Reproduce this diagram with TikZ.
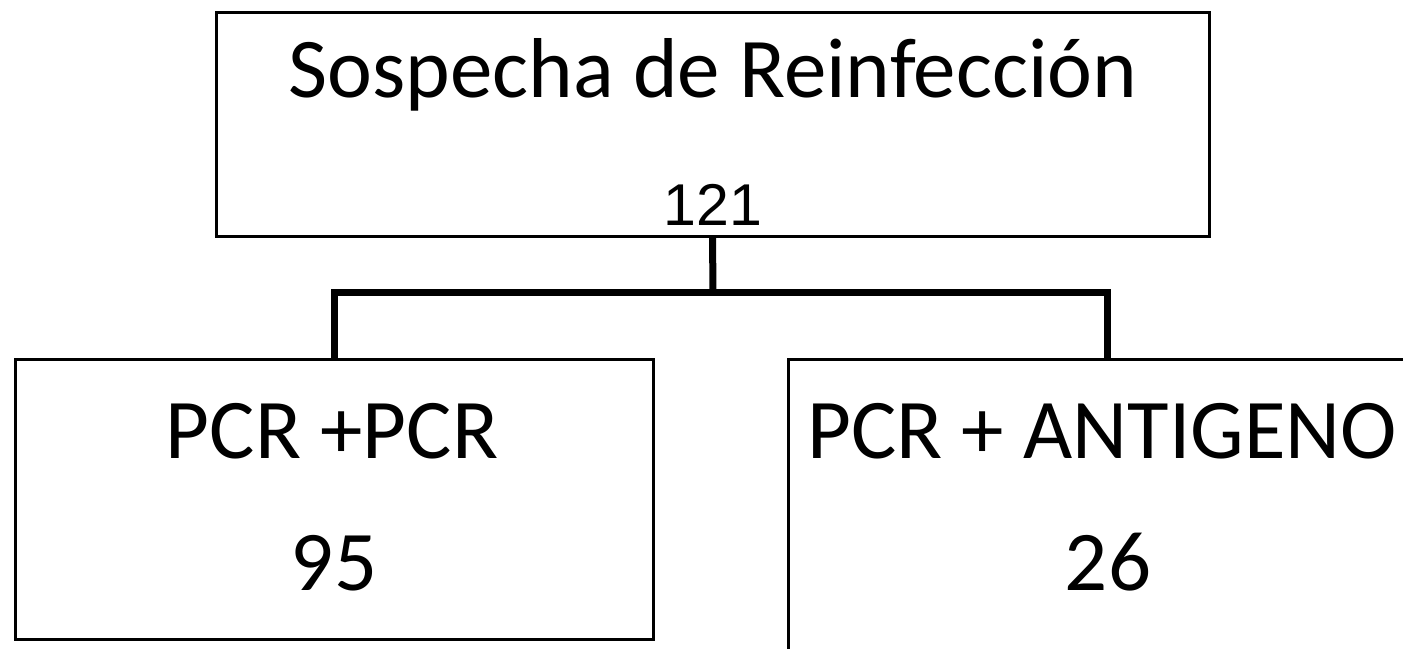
\documentclass[tikz,border=0pt]{standalone}
\usepackage{fontspec}
\setmainfont{Carlito}
\newfontfamily\arialf{Liberation Sans}
\begin{document}
\begin{tikzpicture}[x=1pt,y=-1pt,
  boxst/.style={draw=black,line width=3pt,fill=white,inner sep=0pt,outer sep=0pt},
  conn/.style={draw=black,line width=7pt},
  bigtxt/.style={anchor=base,inner sep=0pt,font=\fontsize{85}{100}\selectfont},
  numtxt/.style={anchor=base,inner sep=0pt,font=\arialf\fontsize{59}{70}\selectfont}]
\useasboundingbox (0,0) rectangle (1403,648);
\clip (0,0) rectangle (1403,648);
\node[boxst,minimum width=993pt,minimum height=224pt] (top) at (712.5,124) {};
\node[boxst,minimum width=638pt,minimum height=280pt] (left) at (334,499) {};
\node[boxst,minimum width=638pt,minimum height=296pt] (right) at (1107,507) {};
\coordinate (j) at (713,292);
\draw[conn] (top.south) -- (j);
\draw[conn] (j) -| (left.north);
\draw[conn] (j) -| (right.north);
\draw[conn,line cap=rect] (j-|left.north) -- (j-|right.north);
\node[bigtxt] (t1) at (713,97) {Sospecha de Reinfección};
\node[numtxt] (t2) at (713,225) {121};
\node[bigtxt] (l1) at (332,458) {PCR +PCR};
\node[bigtxt] (l2) at (334,590) {95};
\node[bigtxt] (r1) at (1102,458) {PCR + ANTIGENO};
\node[bigtxt] (r2) at (1108,590) {26};
\end{tikzpicture}
\end{document}
